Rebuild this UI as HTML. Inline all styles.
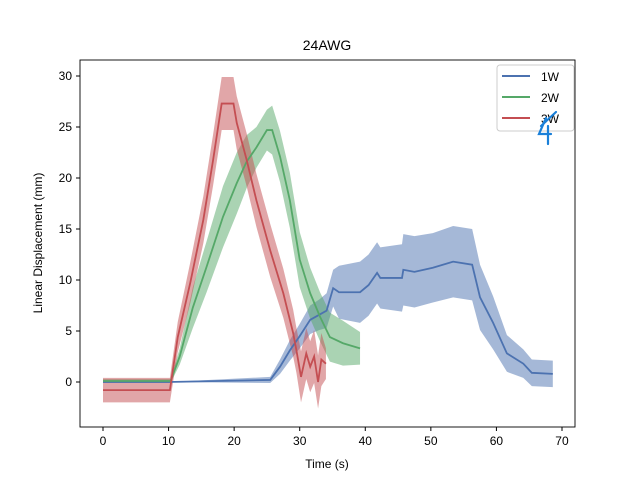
<!DOCTYPE html>
<html><head><meta charset="utf-8"><style>
body{margin:0;background:#fff;}
svg{display:block;font-family:"Liberation Sans","DejaVu Sans",sans-serif;}
</style></head><body>
<svg id="chart" width="640" height="480" viewBox="0 0 640 480">
<rect x="0" y="0" width="640" height="480" fill="#fff"/>
<text x="327" y="50" font-size="14" text-anchor="middle">24AWG</text>
<g id="bands"></g><g id="lines"></g>
<g id="axes"></g>
<text x="327" y="468" font-size="12" text-anchor="middle">Time (s)</text>
<text transform="translate(42,243) rotate(-90)" font-size="12" text-anchor="middle">Linear Displacement (mm)</text>
<g>
<rect x="497" y="65" width="77" height="66" rx="3" fill="#fff" fill-opacity="0.8" stroke="#ccc"/>
<line x1="502" y1="76" x2="530" y2="76" stroke="#4c72b0" stroke-width="2"/>
<text x="541" y="81" font-size="12">1W</text>
<line x1="502" y1="97" x2="530" y2="97" stroke="#55a868" stroke-width="2"/>
<text x="541" y="102" font-size="12">2W</text>
<line x1="502" y1="118" x2="530" y2="118" stroke="#c44e52" stroke-width="2"/>
<text x="541" y="123" font-size="12">3W</text>
</g>
<g stroke="#1a80d9" stroke-width="2.2" fill="none" stroke-linecap="round">
<path d="M541,126 L556,112"/>
<path d="M546,118 L539,134 L551,134 M548,126 L548,144"/>
</g>
</svg>
<script>
const t1=[0,10,25.5,27,28.5,30,31.6,33,34.1,35.1,36,39.2,40.5,41.8,42.3,45.6,45.8,47.5,50.3,53.4,56.3,57.5,59.5,61.6,64.1,65.4,68.6];
const m1=[0,0,0.2,1.5,3.1,4.5,6.1,6.6,7,9.2,8.8,8.8,9.5,10.7,10.2,10.2,11,10.8,11.2,11.8,11.5,8.3,5.8,2.8,1.8,0.9,0.8];
const e1=[0,0,0.3,0.7,1,1.2,1.4,1.5,1.7,1.8,2.6,3,3,3,3,3.3,3.5,3.5,3.4,3.5,3.5,3.2,2.6,1.8,1.4,1.3,1.3];
const t2=[0,10.3,11.7,13.7,15.8,18.3,20.4,21.9,23.4,25,25.8,27,28.5,30,31.6,33.1,34.6,36.6,39.2];
const m2=[0.1,0.1,2.5,7.3,11.3,16.2,19.5,21.6,23,24.7,24.7,22.1,17.8,12,8.7,6.4,4.4,3.8,3.3];
const e2=[0.2,0.2,0.8,2,2.5,3,3,2.6,2,2,2.4,2.5,2.7,2.7,2.5,2.4,2.4,2.2,1.6];
const t3=[0,10.2,11.4,13.3,15.3,16.8,18.1,19.9,20.4,21.9,23.4,25.5,27.5,29,29.5,30.2,31,31.6,32.2,32.8,33.3,34];
const m3=[-0.8,-0.8,4.4,9.7,15.9,21.8,27.3,27.3,25.4,21.8,17.8,12.9,8.7,4.8,3.1,0.5,2.8,1.5,2.5,0,2.2,1.8];
const e3=[1.2,1.2,1.5,2,2.3,2.5,2.6,2.6,2.6,2.6,2.6,2.6,2.4,2.3,2.2,2.5,2.5,2.5,2.6,2.6,2.6,1.5];
const xTicks=[0,10,20,30,40,50,60,70];
const yTicks=[0,5,10,15,20,25,30];
const NS="http://www.w3.org/2000/svg";
function X(t){return 103+t*6.557;}
function Y(v){return 382-v*10.2;}
const bands=document.getElementById('bands'),lines=document.getElementById('lines'),axes=document.getElementById('axes');
function series(ts,ms,es,color,name){
  let up=ts.map((t,i)=>X(t)+','+Y(ms[i]+es[i]));
  let lo=ts.map((t,i)=>X(t)+','+Y(ms[i]-es[i])).reverse();
  const b=document.createElementNS(NS,'polygon');
  b.setAttribute('points',up.concat(lo).join(' '));
  b.setAttribute('fill',color);b.setAttribute('fill-opacity','0.5');
  
  
  bands.appendChild(b);
  const l=document.createElementNS(NS,'polyline');
  l.setAttribute('points',ts.map((t,i)=>X(t)+','+Y(ms[i])).join(' '));
  l.setAttribute('fill','none');l.setAttribute('stroke',color);l.setAttribute('stroke-width','1.8');
  
  
  lines.appendChild(l);
}
series(t1,m1,e1,'#4c72b0','series-1w');
series(t2,m2,e2,'#55a868','series-2w');
series(t3,m3,e3,'#c44e52','series-3w');
const frame=document.createElementNS(NS,'rect');
frame.setAttribute('x',80);frame.setAttribute('y',60);frame.setAttribute('width',495);frame.setAttribute('height',367);
frame.setAttribute('fill','none');frame.setAttribute('stroke','#000');frame.setAttribute('stroke-width','0.9');


axes.appendChild(frame);
xTicks.forEach(v=>{
  const tk=document.createElementNS(NS,'line');
  tk.setAttribute('x1',X(v));tk.setAttribute('x2',X(v));tk.setAttribute('y1',427);tk.setAttribute('y2',431);tk.setAttribute('stroke','#000');
  
  
  axes.appendChild(tk);
  const tx=document.createElementNS(NS,'text');
  tx.setAttribute('x',X(v));tx.setAttribute('y',445);tx.setAttribute('font-size','12');tx.setAttribute('text-anchor','middle');
  tx.textContent=v;
  
  
  axes.appendChild(tx);
});
yTicks.forEach(v=>{
  const tk=document.createElementNS(NS,'line');
  tk.setAttribute('x1',76);tk.setAttribute('x2',80);tk.setAttribute('y1',Y(v));tk.setAttribute('y2',Y(v));tk.setAttribute('stroke','#000');
  
  
  axes.appendChild(tk);
  const tx=document.createElementNS(NS,'text');
  tx.setAttribute('x',72);tx.setAttribute('y',Y(v)+4);tx.setAttribute('font-size','12');tx.setAttribute('text-anchor','end');
  tx.textContent=v;
  
  
  axes.appendChild(tx);
});
</script>
</body></html>
